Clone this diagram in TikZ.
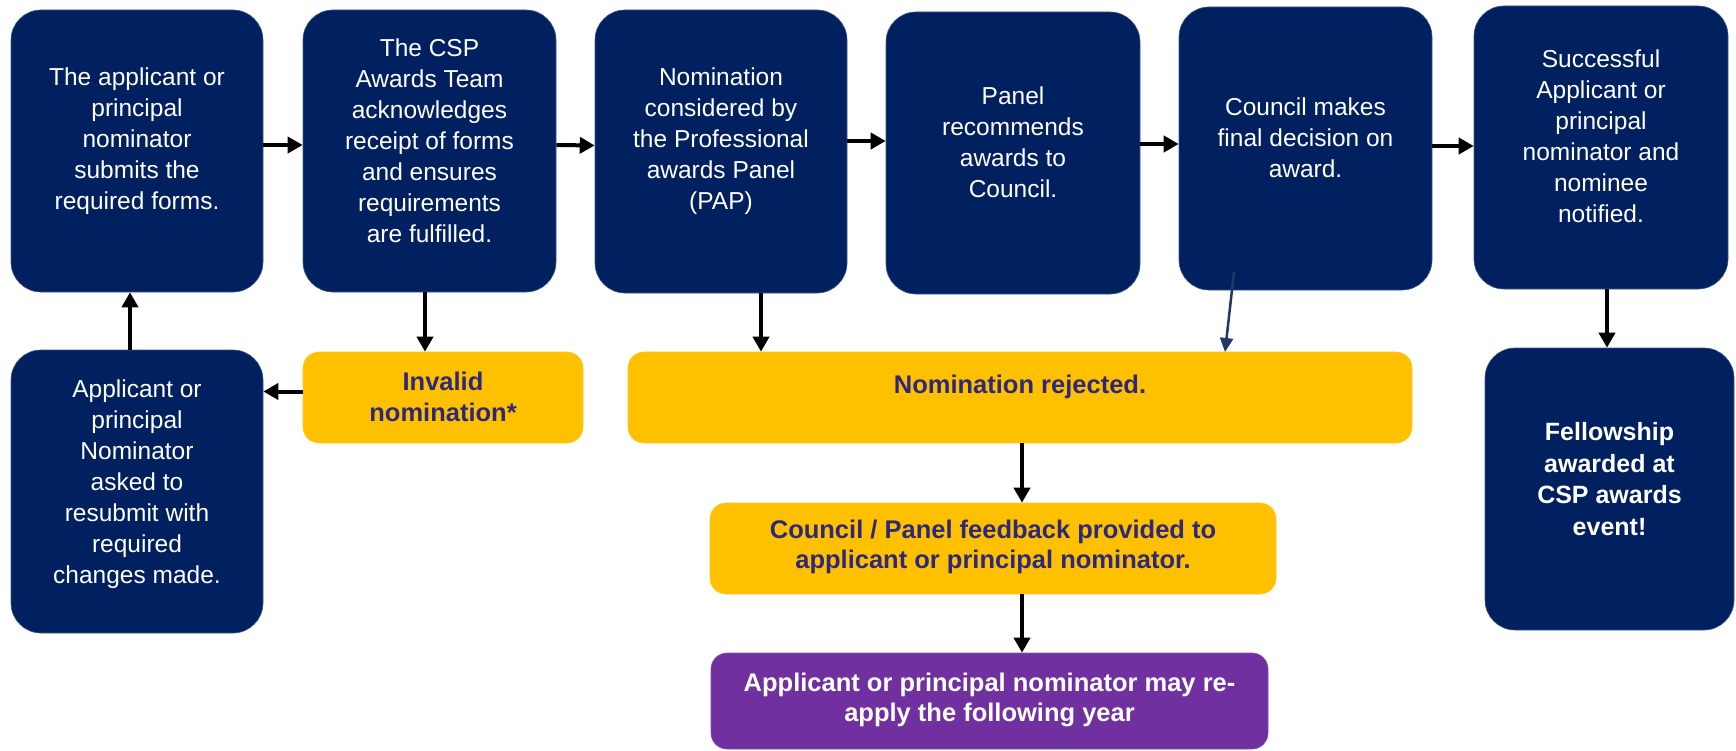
\documentclass[tikz,border=0pt]{standalone}
\usepackage{fontspec}
\setmainfont{Liberation Sans}
\usetikzlibrary{arrows.meta}
\definecolor{navy}{RGB}{0,32,96}
\definecolor{gold}{RGB}{255,192,0}
\definecolor{purp}{RGB}{112,48,160}
\definecolor{ink}{RGB}{46,40,122}
\definecolor{slate}{RGB}{31,56,100}
\begin{document}
\begin{tikzpicture}[x=1pt,y=-1pt,
  navybox/.style={fill=navy, draw=navy!75!white, line width=0.6pt, rounded corners=30pt, inner sep=0pt},
  goldbox/.style={fill=gold, draw=gold!85!white, line width=0.6pt, rounded corners=16pt, inner sep=0pt},
  purpbox/.style={fill=purp, draw=purp!85!white, line width=0.6pt, rounded corners=16pt, inner sep=0pt},
  wtext/.style={text=white, align=center, font=\fontsize{24.5}{31}\selectfont, inner sep=0pt},
  wbold/.style={text=white, align=center, font=\fontsize{25}{31.4}\selectfont\bfseries, inner sep=0pt},
  btext/.style={text=ink, align=center, font=\fontsize{25.5}{30.5}\selectfont\bfseries, inner sep=0pt},
  ptext/.style={text=white, align=center, font=\fontsize{25.5}{30.5}\selectfont\bfseries, inner sep=0pt},
  flow/.style={line width=4pt, -{Triangle[length=15pt,width=16pt]}},
]
\useasboundingbox[fill=white] (0,0) rectangle (1736,751);

% top row boxes
\node[navybox, minimum width=252pt, minimum height=282pt] (b1) at (137,151) {};
\node[navybox, minimum width=253pt, minimum height=282pt] (b2) at (429.5,151) {};
\node[navybox, minimum width=252pt, minimum height=283pt] (b3) at (721,151.5) {};
\node[navybox, minimum width=254pt, minimum height=282pt] (b4) at (1013,153) {};
\node[navybox, minimum width=253pt, minimum height=283pt] (b5) at (1305.5,148.5) {};
\node[navybox, minimum width=254pt, minimum height=283pt] (b6) at (1601,147.5) {};

% second row
\node[navybox, minimum width=252pt, minimum height=283pt] (rs) at (137,491.5) {};
\node[goldbox, minimum width=280pt, minimum height=91pt] (inv) at (443,397.5) {};
\node[goldbox, minimum width=784pt, minimum height=91pt] (rej) at (1020,397.5) {};
\node[navybox, minimum width=249pt, minimum height=282pt] (fel) at (1609.5,489) {};
\node[goldbox, minimum width=566pt, minimum height=91pt] (fb) at (993,548.5) {};
\node[purpbox, minimum width=557pt, minimum height=96pt] (ra) at (989.5,701) {};

% texts
\node[wtext] (t1) at (137,141.5) {The applicant or\\principal\\nominator\\submits the\\required forms.};
\node[wtext] (t2) at (429.5,141) {The CSP\\Awards Team\\acknowledges\\receipt of forms\\and ensures\\requirements\\are fulfilled.};
\node[wtext] (t3) at (721,141) {Nomination\\considered by\\the Professional\\awards Panel\\(PAP)};
\node[wtext] (t4) at (1013,142) {Panel\\recommends\\awards to\\Council.};
\node[wtext] (t5) at (1305.5,138) {Council makes\\final decision on\\award.};
\node[wtext] (t6) at (1601,136) {Successful\\Applicant or\\principal\\nominator and\\nominee\\notified.};
\node[wtext] (trs) at (137,484) {Applicant or\\principal\\Nominator\\asked to\\resubmit with\\required\\changes made.};
\node[btext] (tinv) at (443,397) {Invalid\\nomination*};
\node[btext] (trej) at (1020,387) {Nomination rejected.};
\node[btext] (tfb) at (993,547) {Council / Panel feedback provided to\\applicant or principal nominator.};
\node[ptext] (tra) at (989.5,700) {Applicant or principal nominator may re-\\apply the following year};
\node[wbold] (tfel) at (1609.5,479) {Fellowship\\awarded at\\CSP awards\\event!};

% helper x positions
\coordinate (xa) at (130,0);
\coordinate (xb) at (425,0);
\coordinate (xc) at (761,0);
\coordinate (xd) at (1022,0);
\coordinate (xe) at (1607,0);
\coordinate (cs) at (1234,272);
\coordinate (ce) at (1225,352);

% horizontal arrows
\draw[flow] ([yshift=6pt]b1.east) -- ([yshift=6pt]b2.west);
\draw[flow] ([yshift=6pt]b2.east) -- ([yshift=6pt]b3.west);
\draw[flow] ([yshift=10.5pt]b3.east) -- ([yshift=12pt]b4.west);
\draw[flow] ([yshift=9pt]b4.east) -- ([yshift=4.5pt]b5.west);
\draw[flow] ([yshift=2.5pt]b5.east) -- ([yshift=1.5pt]b6.west);
\draw[flow] ([yshift=6pt]inv.west) -- ([yshift=6pt]inv.west -| rs.east);

% vertical arrows
\draw[flow] (rs.north -| xa) -- (b1.south -| xa);
\draw[flow] (b2.south -| xb) -- (inv.north -| xb);
\draw[flow] (b3.south -| xc) -- (rej.north -| xc);
\draw[flow] (b6.south -| xe) -- (fel.north -| xe);
\draw[flow] (rej.south -| xd) -- (fb.north -| xd);
\draw[flow] (fb.south -| xd) -- (ra.north -| xd);
\draw[line width=2.5pt, slate, -{Triangle[length=14pt,width=13pt]}] (cs) -- (ce);
\end{tikzpicture}
\end{document}
